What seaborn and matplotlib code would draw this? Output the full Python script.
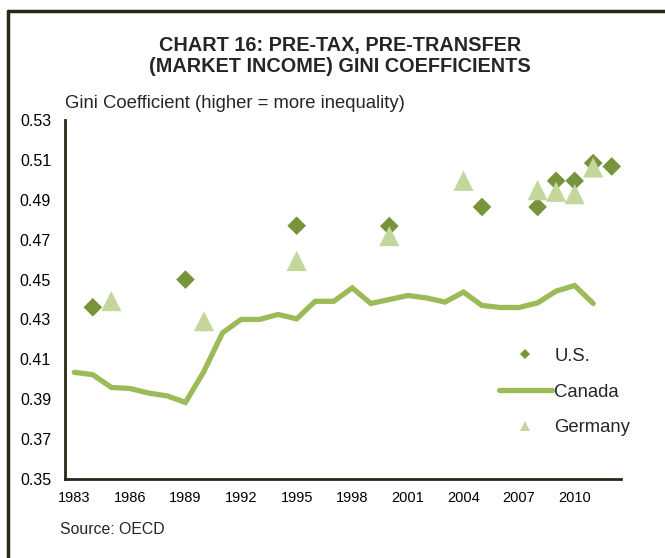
import matplotlib
matplotlib.use("Agg")
import matplotlib.pyplot as plt
from matplotlib.lines import Line2D
import pandas as pd
import seaborn as sns

# Data (OECD market-income Gini)
canada_years = list(range(1983, 2012))
canada_gini = [0.4035, 0.4023, 0.3959, 0.3954, 0.3931, 0.3917, 0.3884, 0.4040,
               0.4233, 0.4300, 0.4300, 0.4325, 0.4303, 0.4391, 0.4391, 0.4458,
               0.4380, 0.4400, 0.4420, 0.4408, 0.4387, 0.4437, 0.4370, 0.4360,
               0.4360, 0.4383, 0.4442, 0.4470, 0.4380]

us_years = [1984, 1989, 1995, 2000, 2005, 2008, 2009, 2010, 2011, 2012]
us_gini = [0.4361, 0.4500, 0.4770, 0.4768, 0.4864, 0.4864, 0.4995, 0.4995, 0.5084, 0.5067]

germany_years = [1985, 1990, 1995, 2000, 2004, 2008, 2009, 2010, 2011]
germany_gini = [0.4392, 0.4291, 0.4593, 0.4718, 0.4995, 0.4948, 0.4940, 0.4928, 0.5062]

x_ticks = list(range(1983, 2011, 3))
y_ticks = [0.35, 0.37, 0.39, 0.41, 0.43, 0.45, 0.47, 0.49, 0.51, 0.53]

US_COLOR = "#77933C"
CA_COLOR = "#9BBB59"
DE_COLOR = "#C3D69B"
DARK = "#252A17"

sns.set_theme(style="white")
plt.rcParams["font.family"] = ["Liberation Sans", "DejaVu Sans"]

fig = plt.figure(figsize=(6.65, 5.58), dpi=100)
ax = fig.add_axes([65 / 665, 1 - 479 / 558, (621 - 65) / 665, (479 - 120) / 558])

ca = pd.DataFrame({"year": canada_years, "gini": canada_gini})
us = pd.DataFrame({"year": us_years, "gini": us_gini})
de = pd.DataFrame({"year": germany_years, "gini": germany_gini})

sns.lineplot(data=ca, x="year", y="gini", ax=ax, color=CA_COLOR, linewidth=3.8,
             solid_joinstyle="miter", zorder=2)
sns.scatterplot(data=us, x="year", y="gini", ax=ax, marker="D", s=90,
                color=US_COLOR, edgecolor="none", zorder=3)
sns.scatterplot(data=de, x="year", y="gini", ax=ax, marker="^", s=210,
                color=DE_COLOR, edgecolor="none", zorder=4)

ax.set_xlim(1982.5, 2012.5)
ax.set_ylim(0.35, 0.53)
ax.set_xticks(x_ticks)
ax.set_xticklabels([str(y) for y in x_ticks], fontsize=10.5)
ax.set_yticks(y_ticks)
ax.set_yticklabels([f"{v:.2f}" for v in y_ticks], fontsize=11.5)
ax.tick_params(axis="both", length=0, colors="black")
ax.tick_params(axis="y", pad=10)
ax.tick_params(axis="x", pad=9)
ax.set_xlabel("")
ax.set_ylabel("")
for side in ["top", "right"]:
    ax.spines[side].set_visible(False)
for side in ["left", "bottom"]:
    ax.spines[side].set_color(DARK)
    ax.spines[side].set_linewidth(2)

handles = [
    Line2D([], [], marker="D", linestyle="", markersize=5, color=US_COLOR, markeredgewidth=0),
    Line2D([], [], color=CA_COLOR, linewidth=3.8),
    Line2D([], [], marker="^", linestyle="", markersize=7, color=DE_COLOR, markeredgewidth=0),
]
ax.legend(handles, ["U.S.", "Canada", "Germany"], loc="upper left",
          bbox_to_anchor=(0.75, 0.412), frameon=False, fontsize=13.3,
          handlelength=2.9, labelspacing=1.02, handletextpad=0.12)

fig.text(340 / 665, 1 - 45 / 558, "CHART 16: PRE-TAX, PRE-TRANSFER", ha="center",
         va="center", fontsize=14.3, fontweight="bold")
fig.text(340 / 665, 1 - 67 / 558, "(MARKET INCOME) GINI COEFFICIENTS", ha="center",
         va="center", fontsize=14.3, fontweight="bold")
fig.text(65 / 665, 1 - 104 / 558, "Gini Coefficient (higher = more inequality)",
         ha="left", va="center", fontsize=13.3)
fig.text(60 / 665, 1 - 530 / 558, "Source: OECD", ha="left", va="center", fontsize=11.4)

# outer frame: top and left rules
fig.add_artist(Line2D([8 / 665, 1.0], [1 - 11 / 558, 1 - 11 / 558], color=DARK, linewidth=2.5,
                      transform=fig.transFigure))
fig.add_artist(Line2D([8 / 665, 8 / 665], [0.0, 1 - 11 / 558], color=DARK, linewidth=2.5,
                      transform=fig.transFigure))

fig.savefig("out.png", dpi=100)
